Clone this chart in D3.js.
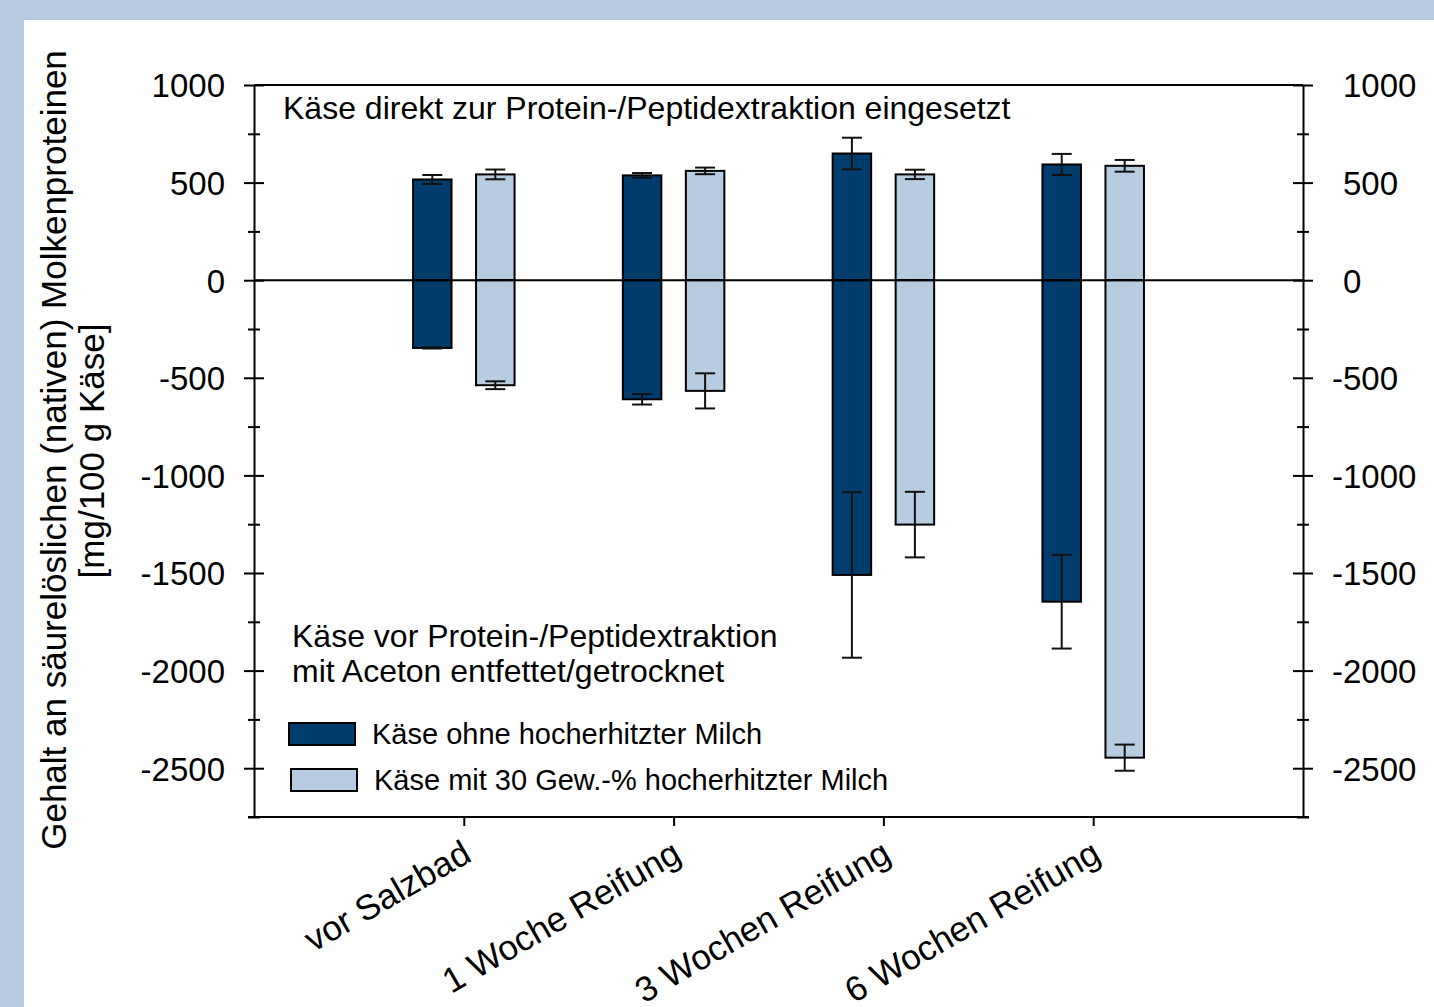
<!DOCTYPE html>
<html><head><meta charset="utf-8">
<script src="https://cdn.jsdelivr.net/npm/d3@7"></script>
<style>html,body{margin:0;padding:0;background:#fff}svg{display:block}text{font-family:"Liberation Sans",Arial,sans-serif;fill:#000}</style>
</head><body>
<script>
const categories = ["vor Salzbad", "1 Woche Reifung", "3 Wochen Reifung", "6 Wochen Reifung"];
const seriesNames = ["Käse ohne hocherhitzter Milch", "Käse mit 30 Gew.-% hocherhitzter Milch"];
// Käse direkt zur Protein-/Peptidextraktion eingesetzt (positive)
const directOhne = [516, 537, 649, 593];
const directOhneErr = [23, 12, 81, 54];
const directMit = [542, 560, 542, 586];
const directMitErr = [25, 17, 24, 30];
// Käse vor Extraktion mit Aceton entfettet/getrocknet (negative)
const entfOhne = [-347, -610, -1510, -1647];
const entfOhneErr = [3, 27, 424, 240];
const entfMit = [-538, -567, -1252, -2446];
const entfMitErr = [20, 90, 168, 67];
const majorTicks = [-2500, -2000, -1500, -1000, -500, 0, 500, 1000];
const minorTicks = [-2750, -2250, -1750, -1250, -750, -250, 250, 750];
const yDomain = [-2750, 1000];

const W = 1434, H = 1007;
const colors = ["#003c6c", "#b8cce1"];
const L = 254, R = 1303, T = 85, B = 817;
const FONT = '"Liberation Sans", Arial, sans-serif';

const svg = d3.select("body").append("svg").attr("width", W).attr("height", H);
svg.append("rect").attr("width", W).attr("height", H).attr("fill", "#b8cce1");
svg.append("rect").attr("x", 24).attr("y", 20).attr("width", W - 24).attr("height", H - 20).attr("fill", "#fff");

const x = d3.scalePoint().domain(categories).range([L, R]).padding(1);
const y = d3.scaleLinear().domain(yDomain).range([B, T]);
const off = d3.scalePoint().domain([0, 1]).range([-31.5, 31.5]);
const bw = 38.5;

// bars
const bars = [];
categories.forEach((c, i) => {
  bars.push({c, s: 0, v: directOhne[i], e: directOhneErr[i]});
  bars.push({c, s: 1, v: directMit[i], e: directMitErr[i]});
  bars.push({c, s: 0, v: entfOhne[i], e: entfOhneErr[i]});
  bars.push({c, s: 1, v: entfMit[i], e: entfMitErr[i]});
});
const g = svg.append("g");
g.selectAll("rect.bar").data(bars).join("rect").attr("class", "bar")
  .attr("x", d => x(d.c) + off(d.s) - bw / 2)
  .attr("width", bw)
  .attr("y", d => y(Math.max(0, d.v)))
  .attr("height", d => Math.abs(y(d.v) - y(0)))
  .attr("fill", d => colors[d.s]).attr("stroke", "#000").attr("stroke-width", 2);

// error bars
const eg = svg.append("g").attr("stroke", "#111").attr("stroke-width", 2);
bars.forEach(d => {
  const cx = x(d.c) + off(d.s);
  eg.append("line").attr("x1", cx).attr("x2", cx).attr("y1", y(d.v - d.e)).attr("y2", y(d.v + d.e));
  [d.v - d.e, d.v + d.e].forEach(v => eg.append("line").attr("x1", cx - 10).attr("x2", cx + 10).attr("y1", y(v)).attr("y2", y(v)));
});

// zero line
svg.append("line").attr("x1", L).attr("x2", R).attr("y1", y(0)).attr("y2", y(0)).attr("stroke", "#000").attr("stroke-width", 2);
// top frame
svg.append("line").attr("x1", L).attr("x2", R).attr("y1", T).attr("y2", T).attr("stroke", "#000").attr("stroke-width", 2);

function styleAxis(sel) {
  sel.select(".domain").attr("stroke", "#000").attr("stroke-width", 2);
  sel.selectAll(".tick line").attr("stroke", "#000").attr("stroke-width", 2);
}
// left axis
const la = svg.append("g").attr("transform", `translate(${L},0)`)
  .call(d3.axisLeft(y).tickValues(majorTicks).tickSizeInner(10).tickSizeOuter(0).tickPadding(19).tickFormat(d => String(d)));
la.call(styleAxis);
la.selectAll(".tick line").attr("x1", 10);
la.selectAll("text").attr("font-size", 33).style("font-family", FONT).attr("fill", "#000").attr("dy", "0.36em");
const lm = svg.append("g").attr("transform", `translate(${L},0)`)
  .call(d3.axisLeft(y).tickValues(minorTicks).tickSizeInner(6).tickSizeOuter(0).tickFormat(""));
lm.call(styleAxis); lm.select(".domain").remove();
lm.selectAll(".tick line").attr("x1", 6);

// right axis
const ra = svg.append("g").attr("transform", `translate(${R},0)`)
  .call(d3.axisRight(y).tickValues(majorTicks).tickSizeInner(10).tickSizeOuter(0).tickPadding(30).tickFormat(d => String(Math.abs(d))));
ra.call(styleAxis);
ra.selectAll(".tick line").attr("x1", -10);
ra.selectAll("text").attr("font-size", 33).style("font-family", FONT).attr("fill", "#000").attr("dy", "0.36em");
ra.selectAll(".tick").filter(d => d < 0).each(function() {
  const t = d3.select(this).select("text");
  const xx = +t.attr("x");
  d3.select(this).append("text").attr("x", xx).attr("dy", "0.36em").attr("text-anchor", "end")
    .attr("font-size", 33).style("font-family", FONT).attr("fill", "#000").text("-");
});
const rm = svg.append("g").attr("transform", `translate(${R},0)`)
  .call(d3.axisRight(y).tickValues(minorTicks).tickSizeInner(6).tickSizeOuter(0).tickFormat(""));
rm.call(styleAxis); rm.select(".domain").remove();
rm.selectAll(".tick line").attr("x1", -6);

// bottom axis
const ba = svg.append("g").attr("transform", `translate(0,${B})`)
  .call(d3.axisBottom(x).tickSizeInner(9).tickSizeOuter(0));
ba.call(styleAxis);
ba.select(".domain").attr("d", `M${L - 6},0H${R + 6}`);
ba.selectAll("text").attr("font-size", 35).style("font-family", FONT).attr("fill", "#000")
  .attr("text-anchor", "end").attr("dy", null).attr("y", null)
  .attr("transform", "translate(9,43) rotate(-30)");

// annotations
svg.append("text").attr("x", 283).attr("y", 119).attr("font-size", 32).text("Käse direkt zur Protein-/Peptidextraktion eingesetzt");
svg.append("text").attr("x", 292).attr("y", 647).attr("font-size", 32).text("Käse vor Protein-/Peptidextraktion");
svg.append("text").attr("x", 292).attr("y", 682).attr("font-size", 32).text("mit Aceton entfettet/getrocknet");

// legend
const lg = svg.append("g");
const legY = [723, 769];
seriesNames.forEach((n, i) => {
  lg.append("rect").attr("x", 289 + 2 * i).attr("y", legY[i]).attr("width", 66).attr("height", 22)
    .attr("fill", colors[i]).attr("stroke", "#000").attr("stroke-width", 2);
  lg.append("text").attr("x", 372 + 2 * i).attr("y", legY[i] + 21).attr("font-size", 29).text(n);
});

// y title
svg.append("text").attr("transform", "translate(66,450) rotate(-90)").attr("text-anchor", "middle").attr("font-size", 35)
  .text("Gehalt an säurelöslichen (nativen) Molkenproteinen");
svg.append("text").attr("transform", "translate(104,451) rotate(-90)").attr("text-anchor", "middle").attr("font-size", 35)
  .text("[mg/100 g Käse]");
</script>
</body></html>
